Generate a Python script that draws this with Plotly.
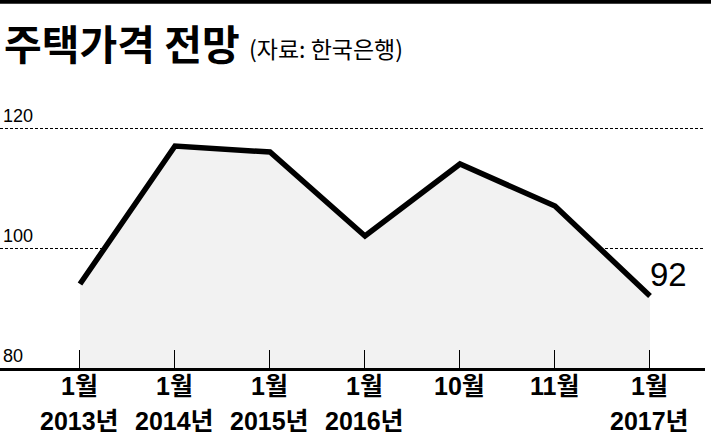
import plotly.graph_objects as go

months = ["1월", "1월", "1월", "1월", "10월", "11월", "1월"]
years = ["2013년", "2014년", "2015년", "2016년", "", "", "2017년"]
values = [94, 117, 116, 102, 114, 107, 92]
y_ticks = [80, 100, 120]
title_main = "주택가격 전망"
title_src = "(자료: 한국은행)"

xs = list(range(len(values)))
LAT = "Liberation Sans, Noto Sans CJK KR, sans-serif"
KR = "Noto Sans CJK KR, sans-serif"

fig = go.Figure()
fig.add_trace(go.Scatter(
    x=xs, y=values, mode="lines",
    line=dict(color="black", width=5.5),
    fill="tozeroy", fillcolor="#f2f2f2",
    hoverinfo="skip", showlegend=False,
))

annotations = []
for x, m, yr in zip(xs, months, years):
    annotations.append(dict(x=x, y=0, xref="x", yref="paper", text=m,
                            showarrow=False, yanchor="middle", yshift=-18,
                            font=dict(family=LAT, size=25, color="black", weight="bold")))
    if yr:
        annotations.append(dict(x=x, y=0, xref="x", yref="paper", text=yr,
                                showarrow=False, yanchor="middle", yshift=-53,
                                font=dict(family=LAT, size=25, color="black", weight="bold")))
for t in y_ticks:
    annotations.append(dict(x=0, y=t, xref="paper", yref="y", text=str(t),
                            showarrow=False, xanchor="left", yanchor="bottom",
                            xshift=1, yshift=0,
                            font=dict(family=LAT, size=18, color="black")))
annotations.append(dict(x=xs[-1], y=values[-1], xref="x", yref="y", text=str(values[-1]),
                        showarrow=False, xanchor="center", yanchor="middle",
                        xshift=19, yshift=22,
                        font=dict(family=LAT, size=33, color="black")))
annotations.append(dict(x=0, y=1.373, xref="paper", yref="paper",
                        text=f"<b>{title_main}</b>", showarrow=False,
                        xanchor="left", yanchor="middle", xshift=2, yshift=-42,
                        font=dict(family=KR, size=41, color="black", weight=900)))
annotations.append(dict(x=0, y=1.373, xref="paper", yref="paper",
                        text=title_src, showarrow=False,
                        xanchor="left", yanchor="middle", xshift=247, yshift=-48,
                        font=dict(family=KR, size=23, color="black")))

fig.update_layout(
    width=711, height=441,
    margin=dict(l=0, r=6, t=100, b=73),
    paper_bgcolor="white", plot_bgcolor="white",
    annotations=annotations,
    shapes=[dict(type="line", xref="paper", yref="paper", x0=-0.01, x1=1.02,
                 y0=1.367, y1=1.367, line=dict(color="black", width=4))],
    xaxis=dict(range=[-0.842, 6.579], tickvals=xs, showticklabels=False,
               ticks="inside", ticklen=18, tickwidth=1, tickcolor="black",
               showgrid=False, zeroline=False,
               showline=True, linecolor="black", linewidth=3),
    yaxis=dict(range=[80, 124.67], tickvals=y_ticks, showticklabels=False,
               showgrid=True, gridcolor="black", gridwidth=1, griddash="3px,2px",
               zeroline=False, showline=False),
)

fig.write_html("out.html", config={"displayModeBar": False},
               post_script="document.body.style.margin='0';document.body.style.overflow='hidden';")
